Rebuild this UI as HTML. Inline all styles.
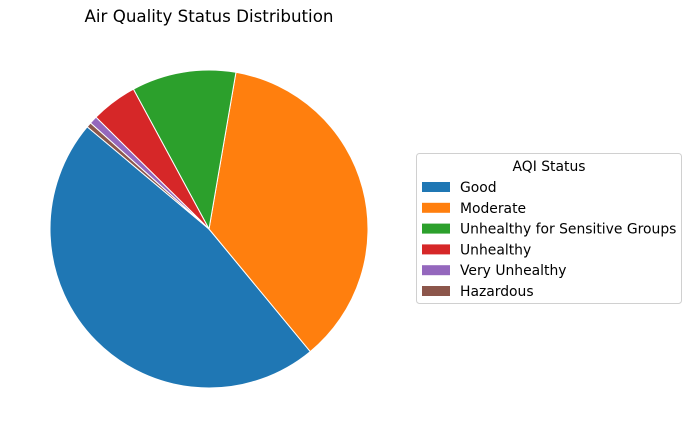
<!DOCTYPE html>
<html><head><meta charset="utf-8"><style>
body{margin:0;background:#fff;}
svg{display:block;font-family:"DejaVu Sans","Liberation Sans",sans-serif;}
</style></head><body>
<svg id="chart" width="691" height="438" viewBox="0 0 691 438">
<text x="209" y="22" text-anchor="middle" font-size="16.7" fill="#000">Air Quality Status Distribution</text>
<g id="slices"></g>
<g id="legend">
<rect x="416.5" y="153.5" width="265" height="150" rx="3" fill="#fff" stroke="#d0d0d0"/>
<text x="549" y="171" text-anchor="middle" font-size="13.9" fill="#000">AQI Status</text>
</g>
</svg>
<script>
const categories = ["Good","Moderate","Unhealthy for Sensitive Groups","Unhealthy","Very Unhealthy","Hazardous"];
const values = [47.1, 36.3, 10.6, 4.7, 0.8, 0.5];
const colors = ["#1f77b4","#ff7f0e","#2ca02c","#d62728","#9467bd","#8c564b"];
const NS="http://www.w3.org/2000/svg";
const cx=209, cy=229, r=159, start=140;
const total=values.reduce((a,b)=>a+b,0);
const sg=document.getElementById('slices');
let a=start;
function pt(deg){const t=deg*Math.PI/180;return [cx+r*Math.cos(t), cy-r*Math.sin(t)];}
values.forEach((v,i)=>{
  const span=v/total*360, a2=a+span;
  const p1=pt(a), p2=pt(a2);
  const p=document.createElementNS(NS,'path');
  p.setAttribute('d',`M${cx},${cy} L${p1[0]},${p1[1]} A${r},${r} 0 ${span>180?1:0} 0 ${p2[0]},${p2[1]} Z`);
  p.setAttribute('fill',colors[i]);p.setAttribute('stroke','#fff');p.setAttribute('stroke-width','1');
  
  
  sg.appendChild(p);
  a=a2;
});
const lg=document.getElementById('legend');
categories.forEach((c,i)=>{
  const y=187+i*20.8;
  const rc=document.createElementNS(NS,'rect');
  rc.setAttribute('x',422);rc.setAttribute('y',y-5);rc.setAttribute('width',28);rc.setAttribute('height',10);rc.setAttribute('fill',colors[i]);
  
  
  lg.appendChild(rc);
  const t=document.createElementNS(NS,'text');
  t.setAttribute('x',460);t.setAttribute('y',y+5);t.setAttribute('font-size','13.9');t.textContent=c;
  
  
  lg.appendChild(t);
});
</script>
</body></html>
